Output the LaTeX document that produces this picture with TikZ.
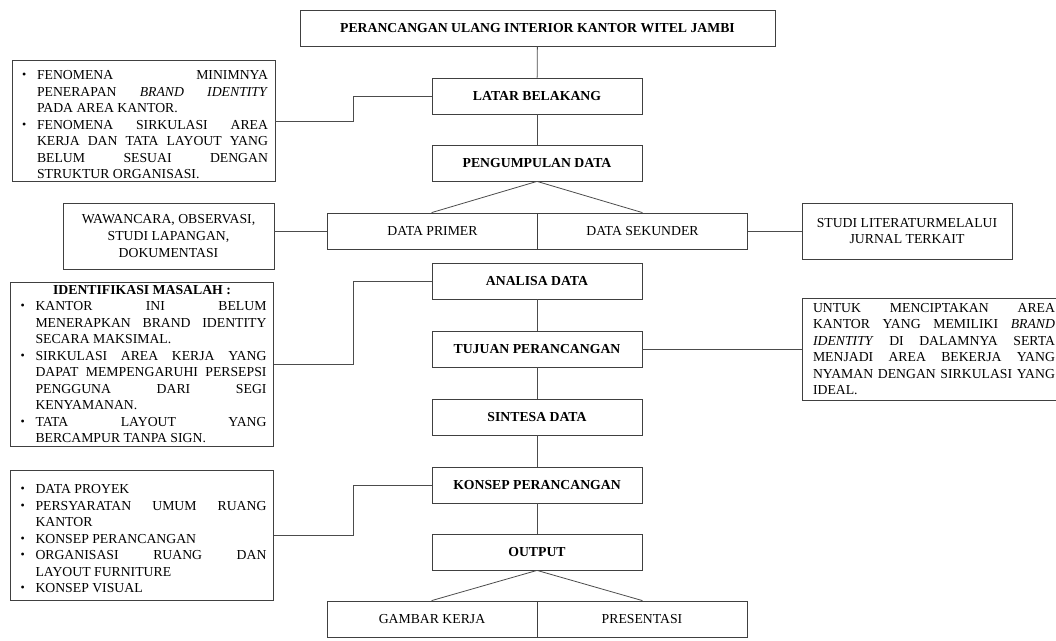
\documentclass[tikz,border=0pt]{standalone}
\usepackage{fontspec}
\setmainfont{Liberation Serif}
\usetikzlibrary{calc}

\newcommand{\butir}{\par\noindent\hangindent=13.5pt\hangafter=1\makebox[13.5pt][l]{\hspace{2.25pt}\raisebox{.7pt}{\small\textbullet}}}

\tikzset{
  kotak/.style={draw=black!75, line width=.6pt, minimum width=157.5pt, minimum height=27pt, inner sep=2pt, font=\fontsize{10.3}{12.4}\selectfont\bfseries},
  subkotak/.style={kotak, font=\fontsize{10.3}{12.4}\selectfont},
  isi/.style={draw=black!75, line width=.6pt, align=justify, text width=186.75pt, inner xsep=5.25pt, inner ysep=2pt, font=\fontsize{10.3}{12.4}\selectfont},
  garis/.style={black!70, line width=.6pt}
}

\begin{document}
\begin{tikzpicture}[x=0.75pt, y=-0.75pt]
\useasboundingbox (0,0) rectangle (1056,641);

% alur utama
\node[kotak, minimum width=356.25pt] (judul) at (537.5,28) {PERANCANGAN ULANG INTERIOR KANTOR WITEL JAMBI};
\node[kotak] (latar) at (537,96) {LATAR BELAKANG};
\node[kotak] (kumpul) at (537,163) {PENGUMPULAN DATA};
\node[subkotak] (primer) at (432.5,231) {DATA PRIMER};
\node[subkotak] (sekunder) at (642.5,231) {DATA SEKUNDER};
\node[kotak] (analisa) at (537,281) {ANALISA DATA};
\node[kotak] (tujuan) at (537,349) {TUJUAN PERANCANGAN};
\node[kotak] (sintesa) at (537,417) {SINTESA DATA};
\node[kotak] (konsep) at (537,485) {KONSEP PERANCANGAN};
\node[kotak] (output) at (537,552) {OUTPUT};
\node[subkotak] (gambar) at (432,619) {GAMBAR KERJA};
\node[subkotak] (presentasi) at (642,619) {PRESENTASI};

% keterangan samping
\node[isi, minimum height=87pt] (ketlatar) at (143.5,121) {%
\butir FENOMENA MINIMNYA\linebreak PENERAPAN \textit{BRAND IDENTITY}\linebreak PADA AREA KANTOR.
\butir FENOMENA SIRKULASI AREA\linebreak KERJA DAN TATA LAYOUT YANG\linebreak BELUM SESUAI DENGAN\linebreak STRUKTUR ORGANISASI.\par};

\node[subkotak, align=center, minimum width=158.25pt, minimum height=49.5pt] (metode) at (168.5,236) {WAWANCARA, OBSERVASI,\\ STUDI LAPANGAN,\\ DOKUMENTASI};
\node[subkotak, align=center, minimum height=42pt] (literatur) at (907,231) {STUDI LITERATURMELALUI\\ JURNAL TERKAIT};

\node[isi, minimum height=123pt] (masalah) at (142,364) {%
\noindent\makebox[\linewidth]{\textbf{IDENTIFIKASI MASALAH :}}
\butir KANTOR INI BELUM\linebreak MENERAPKAN BRAND IDENTITY\linebreak SECARA MAKSIMAL.
\butir SIRKULASI AREA KERJA YANG\linebreak DAPAT MEMPENGARUHI PERSEPSI\linebreak PENGGUNA DARI SEGI\linebreak KENYAMANAN.
\butir TATA LAYOUT YANG\linebreak BERCAMPUR TANPA SIGN.\par};

\node[isi, text width=181.5pt, inner xsep=8.25pt, minimum height=76.5pt] (ketujuan) at (934,349) {%
\noindent UNTUK MENCIPTAKAN AREA\linebreak KANTOR YANG MEMILIKI \textit{BRAND}\linebreak \textit{IDENTITY} DI DALAMNYA SERTA\linebreak MENJADI AREA BEKERJA YANG\linebreak NYAMAN DENGAN SIRKULASI YANG\linebreak IDEAL.\par};

\node[isi, minimum height=97.5pt] (ketkonsep) at (142,535) {%
\butir DATA PROYEK
\butir PERSYARATAN UMUM RUANG\linebreak KANTOR
\butir KONSEP PERANCANGAN
\butir ORGANISASI RUANG DAN\linebreak LAYOUT FURNITURE
\butir KONSEP VISUAL\par};

% penghubung
\coordinate (tulang) at (353,0);
\draw[garis] (judul) -- (latar);
\draw[garis] (latar) -- (kumpul);
\draw[garis] (kumpul.south) -- (kumpul.south west |- primer.north);
\draw[garis] (kumpul.south) -- (kumpul.south east |- sekunder.north);
\draw[garis] (analisa) -- (tujuan);
\draw[garis] (tujuan) -- (sintesa);
\draw[garis] (sintesa) -- (konsep);
\draw[garis] (konsep) -- (output);
\draw[garis] (output.south) -- (output.south west |- gambar.north);
\draw[garis] (output.south) -- (output.south east |- presentasi.north);

\draw[garis] (ketlatar.east) -- (ketlatar.east -| tulang) |- (latar.west);
\draw[garis] (masalah.east) -- (masalah.east -| tulang) |- (analisa.west);
\draw[garis] (ketkonsep.east) -- (ketkonsep.east -| tulang) |- (konsep.west);
\draw[garis] (primer.west) -- (primer.west -| metode.east);
\draw[garis] (sekunder.east) -- (sekunder.east -| literatur.west);
\draw[garis] (tujuan.east) -- (tujuan.east -| ketujuan.west);
\end{tikzpicture}
\end{document}
